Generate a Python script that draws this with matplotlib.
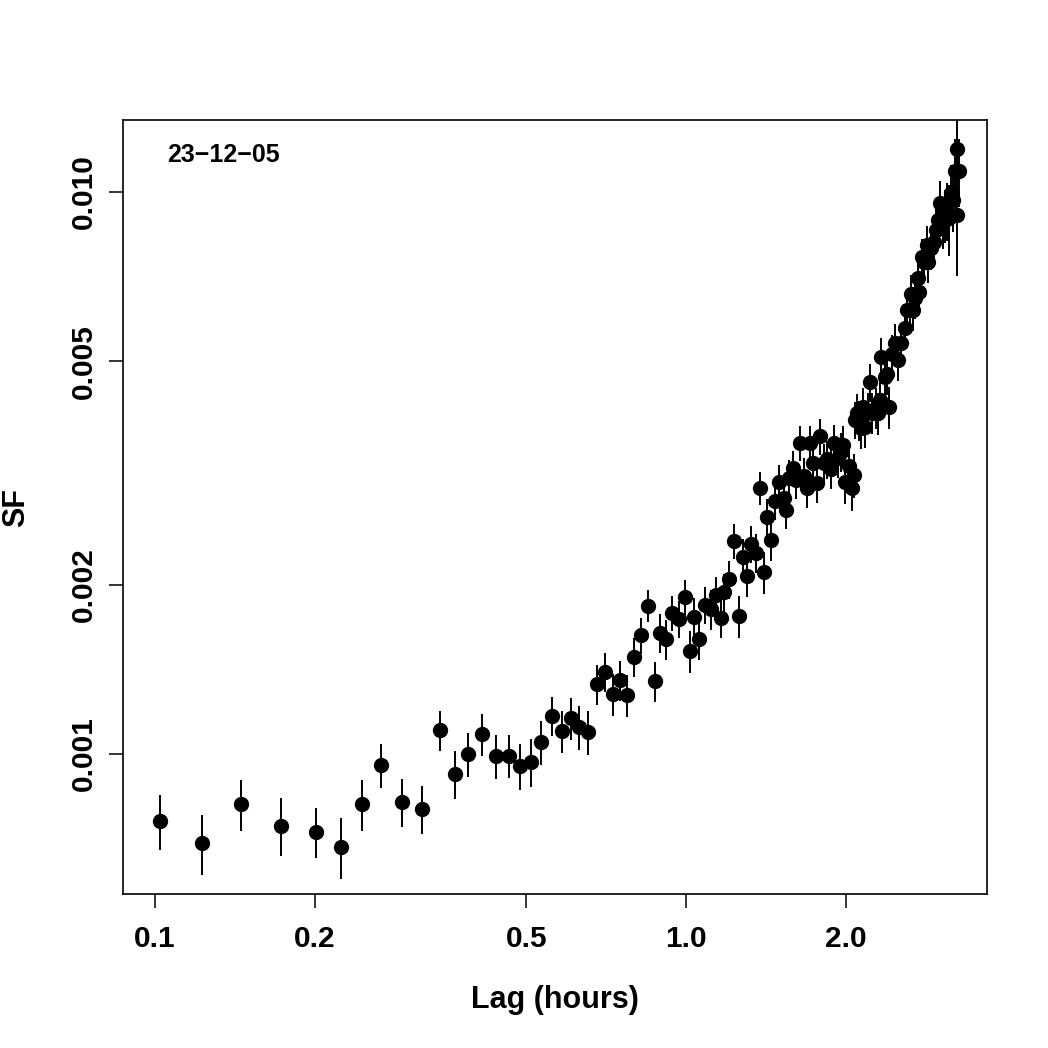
"""
Structure function vs lag, log-log, with error bars (night of 23-12-05).
"""
import matplotlib
matplotlib.use('Agg')
import matplotlib.pyplot as plt

# Lag in hours, structure function value and its 1-sigma error
lag_hours = [
    0.1022, 0.1226, 0.1452, 0.1727, 0.2010, 0.2240, 0.2454, 0.2665, 0.2919, 0.3184,
    0.3441, 0.3673, 0.3886, 0.4129, 0.4387, 0.4642, 0.4869, 0.5107, 0.5333, 0.5593,
    0.5841, 0.6073, 0.6287, 0.6537, 0.6799, 0.7039, 0.7287, 0.7511, 0.7742, 0.7981,
    0.8228, 0.8481, 0.8742, 0.8934, 0.9168, 0.9410, 0.9701, 0.9957, 1.0175, 1.0353,
    1.0580, 1.0859, 1.1145, 1.1389, 1.1638, 1.1790, 1.2049, 1.2312, 1.2582, 1.2801,
    1.3027, 1.3255, 1.3545, 1.3784, 1.4025, 1.4207, 1.4457, 1.4711, 1.4968, 1.5299,
    1.5431, 1.5634, 1.5907, 1.6117, 1.6398, 1.6684, 1.6904, 1.7124, 1.7350, 1.7653,
    1.7886, 1.8199, 1.8436, 1.8760, 1.9005, 1.9339, 1.9593, 1.9763, 1.9934, 2.0277,
    2.0543, 2.0722, 2.0810, 2.0991, 2.1173, 2.1365, 2.1544, 2.1732, 2.2010, 2.2208,
    2.2400, 2.2790, 2.2991, 2.3190, 2.3290, 2.3700, 2.3906, 2.4114, 2.4429, 2.4749,
    2.5073, 2.5402, 2.5845, 2.6070, 2.6413, 2.6530, 2.6760, 2.7000, 2.7346, 2.7466,
    2.7823, 2.8070, 2.8436, 2.8560, 2.8930, 2.9311, 2.9565, 2.9822, 3.0081, 3.0478,
    3.0740, 3.1012, 3.1280, 3.1557, 3.1830, 3.2108, 3.2387, 3.2387, 3.2669,
]
sf = [
    0.000760, 0.000694, 0.000815, 0.000745, 0.000727, 0.000683, 0.000815, 0.000956, 0.000822, 0.000798,
    0.001103, 0.000921, 0.001000, 0.001085, 0.000992, 0.000992, 0.000952, 0.000968, 0.001050, 0.001169,
    0.001099, 0.001159, 0.001117, 0.001094, 0.001332, 0.001399, 0.001279, 0.001354, 0.001273, 0.001488,
    0.001628, 0.001834, 0.001349, 0.001641, 0.001602, 0.001782, 0.001739, 0.001903, 0.001525, 0.001753,
    0.001602, 0.001842, 0.001811, 0.001918, 0.001746, 0.001942, 0.002048, 0.002393, 0.001760, 0.002241,
    0.002073, 0.002364, 0.002279, 0.002973, 0.002108, 0.002641, 0.002403, 0.002819, 0.003048, 0.002854,
    0.002718, 0.003098, 0.003228, 0.003073, 0.003576, 0.003124, 0.002973, 0.003576, 0.003295, 0.003035,
    0.003680, 0.003295, 0.003350, 0.003215, 0.003576, 0.003364, 0.003447, 0.003547, 0.003048, 0.003254,
    0.002973, 0.003136, 0.003930, 0.004045, 0.003930, 0.003803, 0.004145, 0.003819, 0.004061, 0.004590,
    0.004045, 0.004128, 0.004045, 0.004265, 0.005087, 0.004686, 0.004745, 0.004145, 0.005150, 0.005387,
    0.005024, 0.005387, 0.005728, 0.006166, 0.006166, 0.006585, 0.006166, 0.006477, 0.007031, 0.006640,
    0.007661, 0.007506, 0.008048, 0.007506, 0.007949, 0.008147, 0.008558, 0.008917, 0.009559, 0.008807,
    0.009100, 0.009289, 0.008988, 0.009959, 0.009678, 0.010900, 0.009100, 0.011930, 0.010900,
]
sf_err = [
    0.000085, 0.000085, 0.000085, 0.000088, 0.000075, 0.000085, 0.000085, 0.000085, 0.000080, 0.000078,
    0.000090, 0.000090, 0.000090, 0.000092, 0.000090, 0.000088, 0.000090, 0.000095, 0.000095, 0.000095,
    0.000095, 0.000100, 0.000100, 0.000100, 0.000110, 0.000110, 0.000110, 0.000110, 0.000110, 0.000120,
    0.000120, 0.000120, 0.000110, 0.000130, 0.000130, 0.000130, 0.000130, 0.000140, 0.000130, 0.000140,
    0.000130, 0.000140, 0.000150, 0.000150, 0.000140, 0.000150, 0.000160, 0.000170, 0.000150, 0.000170,
    0.000170, 0.000180, 0.000180, 0.000200, 0.000180, 0.000200, 0.000200, 0.000210, 0.000220, 0.000210,
    0.000210, 0.000230, 0.000230, 0.000230, 0.000260, 0.000240, 0.000230, 0.000260, 0.000250, 0.000240,
    0.000270, 0.000260, 0.000260, 0.000260, 0.000270, 0.000270, 0.000270, 0.000280, 0.000260, 0.000270,
    0.000270, 0.000280, 0.000300, 0.000320, 0.000320, 0.000310, 0.000330, 0.000320, 0.000330, 0.000360,
    0.000340, 0.000350, 0.000350, 0.000360, 0.000400, 0.000380, 0.000390, 0.000360, 0.000420, 0.000430,
    0.000420, 0.000440, 0.000460, 0.000490, 0.000500, 0.000520, 0.000500, 0.000530, 0.000560, 0.000540,
    0.000600, 0.000600, 0.000650, 0.000620, 0.000700, 0.000750, 0.000800, 0.000850, 0.000900, 0.000900,
    0.001000, 0.001100, 0.001300, 0.001200, 0.001200, 0.001500, 0.002000, 0.002100, 0.001500,
]

x_ticks = [0.1, 0.2, 0.5, 1.0, 2.0]
x_tick_labels = ['0.1', '0.2', '0.5', '1.0', '2.0']
y_ticks = [0.001, 0.002, 0.005, 0.010]
y_tick_labels = ['0.001', '0.002', '0.005', '0.010']
night_label = '23\u221212\u221205'


def plot_structure_function():
    plt.rcParams['font.family'] = ['Liberation Sans', 'DejaVu Sans']
    plt.rcParams['font.weight'] = 'bold'

    fig = plt.figure(figsize=(10.48, 10.48), dpi=100)
    # plot frame: x 123..987 px, y 120..894 px
    ax = fig.add_axes([0.1174, 0.1469, 0.8244, 0.7386])

    ax.errorbar(lag_hours, sf, yerr=sf_err, fmt='o', color='black',
                markersize=10, elinewidth=1.4, capsize=0)

    ax.set_xscale('log')
    ax.set_yscale('log')
    ax.set_xlim(0.0870, 3.688)
    ax.set_ylim(0.000563, 0.01343)

    ax.set_xticks(x_ticks)
    ax.set_xticklabels(x_tick_labels)
    ax.set_yticks(y_ticks)
    ax.set_yticklabels(y_tick_labels, rotation=90, va='center')
    ax.minorticks_off()
    ax.tick_params(axis='both', direction='out', length=10, width=1.1,
                   labelsize=21.5)
    ax.tick_params(axis='x', pad=12)
    ax.tick_params(axis='y', pad=8)
    for lbl in ax.get_xticklabels() + ax.get_yticklabels():
        lbl.set_fontweight('bold')

    for spine in ax.spines.values():
        spine.set_linewidth(1.2)

    ax.set_xlabel('Lag (hours)', fontsize=22, fontweight='bold')
    ax.set_ylabel('SF', fontsize=22, fontweight='bold')
    ax.xaxis.set_label_coords(0.5, -0.137)
    ax.yaxis.set_label_coords(-0.124, 0.5)
    ax.xaxis.label.set_va('center')
    ax.yaxis.label.set_va('center')

    ax.text(0.051, 0.955, night_label, transform=ax.transAxes,
            fontsize=18, fontweight='bold', ha='left', va='center')

    fig.savefig('out.png', dpi=100)


if __name__ == '__main__':
    plot_structure_function()
